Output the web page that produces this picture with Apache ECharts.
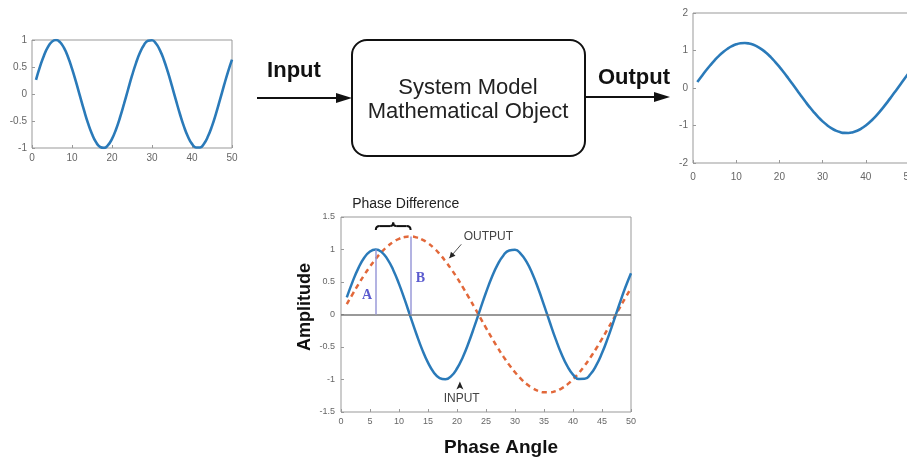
<!DOCTYPE html>
<html><head><meta charset="utf-8">
<script src="https://cdn.jsdelivr.net/npm/echarts@6/dist/echarts.min.js"></script>
<style>html,body{margin:0;padding:0;background:#fff;overflow:hidden}#c{width:907px;height:461px}</style>
</head><body><div id="c"></div>
<script>
// ---- data ----
const phaseX = [1,2,3,4,5,6,7,8,9,10,11,12,13,14,15,16,17,18,19,20,21,22,23,24,25,26,27,28,29,30,31,32,33,34,35,36,37,38,39,40,41,42,43,44,45,46,47,48,49,50];
const inputValues = [0.262,0.506,0.714,0.872,0.970,1.000,0.960,0.852,0.686,0.471,0.224,-0.040,-0.300,-0.540,-0.741,-0.891,-0.979,-0.998,-0.948,-0.831,-0.656,-0.435,-0.184,0.079,0.338,0.573,0.767,0.909,0.986,0.995,0.934,0.808,0.626,0.400,0.145,-0.119,-0.375,-0.605,-0.792,-0.924,-0.992,-0.990,-0.920,-0.784,-0.594,-0.363,-0.106,0.158,0.411,0.636];
const outputValues = [0.159,0.314,0.465,0.607,0.738,0.857,0.960,1.047,1.115,1.164,1.192,1.200,1.186,1.152,1.097,1.023,0.931,0.822,0.699,0.565,0.420,0.268,0.111,-0.048,-0.206,-0.360,-0.509,-0.648,-0.775,-0.889,-0.988,-1.069,-1.132,-1.175,-1.197,-1.198,-1.178,-1.139,-1.079,-0.998,-0.901,-0.788,-0.661,-0.523,-0.376,-0.221,-0.064,0.095,0.252,0.405];
// annotation anchors (data coordinates of the bottom chart)
const markerX = [6, 12];
const markerTop = [1.0, 1.2];
const markerLabels = ['A', 'B'];
const markerLabelX = [4.5, 13.7];
const markerLabelY = [0.30, 0.56];
const braceSpan = [6, 12];
const braceLevel = 1.36;
const calloutLabels = ['OUTPUT', 'INPUT'];
const calloutLabelX = [25.4, 20.8];
const calloutLabelY = [1.20, -1.29];
const outputArrow = [[20.74, 1.08], [18.67, 0.866]];
const inputArrow = [[20.5, -1.14], [20.5, -1.03]];
const diagramTexts = ['Input', 'System Model', 'Mathematical Object', 'Output'];
const chartTexts = ['Phase Difference', 'Amplitude', 'Phase Angle'];

const FONT = 'Liberation Sans, Arial, sans-serif';
const BLUE = '#2a7ab9';
const ORANGE = '#e2683a';
const pts = (vals) => phaseX.map((x, i) => [x, vals[i]]);

const chart = echarts.init(document.getElementById('c'), null, {renderer: 'canvas'});

function xAx(gi, interval, fs, margin) {
  return {type: 'value', gridIndex: gi, min: 0, max: 50, interval: interval,
    axisLine: {show: false, onZero: false}, splitLine: {show: false},
    axisTick: {show: true, inside: true, length: 3, lineStyle: {color: '#999'}},
    axisLabel: {color: '#666', fontSize: fs, fontFamily: FONT, margin: margin, hideOverlap: false}};
}
function yAx(gi, min, max, interval, fs, margin) {
  return {type: 'value', gridIndex: gi, min: min, max: max, interval: interval,
    axisLine: {show: false, onZero: false}, splitLine: {show: false},
    axisTick: {show: true, inside: true, length: 3, lineStyle: {color: '#999'}},
    axisLabel: {color: '#666', fontSize: fs, fontFamily: FONT, margin: margin}};
}

chart.setOption({
  animation: false,
  backgroundColor: '#fff',
  grid: [
    {left: 32, top: 40, width: 200, height: 108, show: true, borderColor: '#999', borderWidth: 1, containLabel: false, outerBoundsMode: 'none'},
    {left: 693, top: 13, width: 216, height: 150, show: true, borderColor: '#999', borderWidth: 1, containLabel: false, outerBoundsMode: 'none'},
    {left: 341, top: 217, width: 290, height: 195, show: true, borderColor: '#999', borderWidth: 1, containLabel: false, outerBoundsMode: 'none'}
  ],
  xAxis: [xAx(0, 10, 10, 5), xAx(1, 10, 10, 9), xAx(2, 5, 9, 5)],
  yAxis: [yAx(0, -1, 1, 0.5, 10, 5), yAx(1, -2, 2, 1, 10, 5), yAx(2, -1.5, 1.5, 0.5, 9, 6)],
  series: [
    {type: 'line', xAxisIndex: 0, yAxisIndex: 0, data: pts(inputValues), smooth: true, showSymbol: false,
      lineStyle: {color: BLUE, width: 2.6}, silent: true},
    {type: 'line', xAxisIndex: 1, yAxisIndex: 1, data: pts(outputValues), smooth: true, showSymbol: false,
      lineStyle: {color: BLUE, width: 2.6}, silent: true},
    {type: 'line', xAxisIndex: 2, yAxisIndex: 2, data: pts(outputValues), smooth: true, showSymbol: false,
      lineStyle: {color: ORANGE, width: 2.5, type: [5, 4]}, silent: true, z: 2},
    {type: 'line', xAxisIndex: 2, yAxisIndex: 2, data: pts(inputValues), smooth: true, showSymbol: false,
      lineStyle: {color: BLUE, width: 2.5}, silent: true, z: 3,
      markLine: {silent: true, symbol: 'none', label: {show: false},
        data: [
          [{coord: [0, 0], lineStyle: {color: '#777', width: 1.5, type: 'solid'}}, {coord: [50, 0]}],
          [{coord: [markerX[0], 0], lineStyle: {color: '#9a9ad8', width: 1.5, type: 'solid'}}, {coord: [markerX[0], markerTop[0]]}],
          [{coord: [markerX[1], 0], lineStyle: {color: '#9a9ad8', width: 1.5, type: 'solid'}}, {coord: [markerX[1], markerTop[1]]}]
        ]}}
  ]
});

const P = (x, y) => chart.convertToPixel({xAxisIndex: 2, yAxisIndex: 2}, [x, y]);

function headPoints(from, tip, len, half, notch) {
  const dx = tip[0] - from[0], dy = tip[1] - from[1];
  const L = Math.sqrt(dx * dx + dy * dy);
  const ux = dx / L, uy = dy / L, nx = -uy, ny = ux;
  const bx = tip[0] - ux * len, by = tip[1] - uy * len;
  const out = [tip, [bx + nx * half, by + ny * half]];
  if (notch) out.push([tip[0] - ux * len * notch, tip[1] - uy * len * notch]);
  out.push([bx - nx * half, by - ny * half]);
  return out;
}

const g = [];
// ---- block diagram ----
g.push({type: 'rect', shape: {x: 352, y: 40, width: 233, height: 116, r: 15},
  style: {fill: '#fff', stroke: '#111', lineWidth: 2}});
g.push({type: 'text', x: 468, y: 88, style: {text: diagramTexts[1], font: '22px ' + FONT, fill: '#222', align: 'center', verticalAlign: 'middle'}});
g.push({type: 'text', x: 468, y: 111.5, style: {text: diagramTexts[2], font: '22px ' + FONT, fill: '#222', align: 'center', verticalAlign: 'middle'}});
g.push({type: 'text', x: 294, y: 71, style: {text: diagramTexts[0], font: 'bold 22px ' + FONT, fill: '#111', align: 'center', verticalAlign: 'middle'}});
g.push({type: 'text', x: 634, y: 78, style: {text: diagramTexts[3], font: 'bold 22px ' + FONT, fill: '#111', align: 'center', verticalAlign: 'middle'}});
g.push({type: 'line', shape: {x1: 257, y1: 98, x2: 340, y2: 98}, style: {stroke: '#111', lineWidth: 2}});
g.push({type: 'polygon', shape: {points: [[352, 98], [336, 93], [336, 103]]}, style: {fill: '#111'}});
g.push({type: 'line', shape: {x1: 585, y1: 97, x2: 658, y2: 97}, style: {stroke: '#111', lineWidth: 2}});
g.push({type: 'polygon', shape: {points: [[670, 97], [654, 92], [654, 102]]}, style: {fill: '#111'}});

// ---- bottom chart annotations ----
for (let i = 0; i < markerLabels.length; i++) {
  const p = P(markerLabelX[i], markerLabelY[i]);
  g.push({type: 'text', x: p[0], y: p[1], style: {text: markerLabels[i], font: 'bold 14px Liberation Serif, Times New Roman, serif', fill: '#5b5bcf', align: 'center', verticalAlign: 'middle'}});
}
const bl = P(braceSpan[0], braceLevel), br = P(braceSpan[1], braceLevel);
const xL = bl[0], xR = br[0], y0 = bl[1], xm = (xL + xR) / 2;
const braceStyle = {stroke: '#111', fill: 'none', lineWidth: 2};
g.push({type: 'bezierCurve', shape: {x1: xL, y1: y0 + 4, cpx1: xL, cpy1: y0, x2: xL + 4, y2: y0}, style: braceStyle});
g.push({type: 'line', shape: {x1: xL + 4, y1: y0, x2: xm - 3, y2: y0}, style: braceStyle});
g.push({type: 'bezierCurve', shape: {x1: xm - 3, y1: y0, cpx1: xm, cpy1: y0, x2: xm, y2: y0 - 3.5}, style: braceStyle});
g.push({type: 'bezierCurve', shape: {x1: xm, y1: y0 - 3.5, cpx1: xm, cpy1: y0, x2: xm + 3, y2: y0}, style: braceStyle});
g.push({type: 'line', shape: {x1: xm + 3, y1: y0, x2: xR - 4, y2: y0}, style: braceStyle});
g.push({type: 'bezierCurve', shape: {x1: xR - 4, y1: y0, cpx1: xR, cpy1: y0, x2: xR, y2: y0 + 4}, style: braceStyle});
const pdl = P(1.93, 1.70);
g.push({type: 'text', x: pdl[0], y: pdl[1], style: {text: chartTexts[0], font: '14px ' + FONT, fill: '#222', align: 'left', verticalAlign: 'middle'}});
for (let i = 0; i < calloutLabels.length; i++) {
  const p = P(calloutLabelX[i], calloutLabelY[i]);
  g.push({type: 'text', x: p[0], y: p[1], style: {text: calloutLabels[i], font: '12px ' + FONT, fill: '#444', align: 'center', verticalAlign: 'middle'}});
}
const oa0 = P(outputArrow[0][0], outputArrow[0][1]), oa1 = P(outputArrow[1][0], outputArrow[1][1]);
g.push({type: 'line', shape: {x1: oa0[0], y1: oa0[1], x2: oa1[0], y2: oa1[1]}, style: {stroke: '#555', lineWidth: 1}});
g.push({type: 'polygon', shape: {points: headPoints(oa0, oa1, 6, 3)}, style: {fill: '#222'}});
const ia0 = P(inputArrow[0][0], inputArrow[0][1]), ia1 = P(inputArrow[1][0], inputArrow[1][1]);
g.push({type: 'polygon', shape: {points: headPoints(ia0, ia1, 8, 3.5, 0.75)}, style: {fill: '#222'}});
// axis titles
g.push({type: 'text', x: 501, y: 448, style: {text: chartTexts[2], font: 'bold 19px ' + FONT, fill: '#111', align: 'center', verticalAlign: 'middle'}});
g.push({type: 'text', x: 305, y: 307, rotation: Math.PI / 2, style: {text: chartTexts[1], font: 'bold 18px ' + FONT, fill: '#111', align: 'center', verticalAlign: 'middle'}});

chart.setOption({graphic: g});
</script></body></html>
